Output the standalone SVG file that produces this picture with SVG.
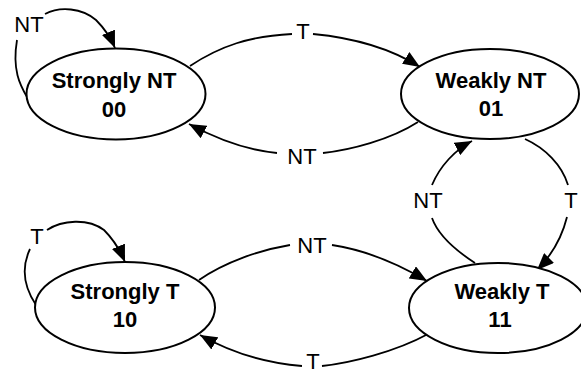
<svg xmlns="http://www.w3.org/2000/svg" width="581" height="375" viewBox="0 0 581 375">
  <style>
    .state ellipse { fill: #ffffff; stroke: #000000; stroke-width: 2; }
    .state text { font-family: "Liberation Sans", Arial, sans-serif; font-weight: bold; font-size: 22px; fill: #000000; text-anchor: middle; }
    .edges path { fill: none; stroke: #000000; stroke-width: 1.8; }
    .edges .arrow { marker-end: url(#head); }
    .lbl { font-family: "Liberation Sans", Arial, sans-serif; font-size: 22px; fill: #000000; text-anchor: middle; }
  </style>
  <defs>
    <marker id="head" markerUnits="userSpaceOnUse" markerWidth="18" markerHeight="14" refX="17" refY="7" orient="auto">
      <path d="M0,0 L17,7 L0,14 Z" fill="#000000"/>
    </marker>
  </defs>

  <rect width="581" height="375" fill="#ffffff"/>

  <!-- transitions -->
  <g id="connectors" class="edges">
    <!-- Strongly NT self-loop (NT) -->
    <path d="M27,97 C20,85 12,70 17,40"/>
    <path class="arrow" d="M45,14 C60,6 82,8 96,20 C104,28 110,36 115,48"/>
    <!-- Strongly NT -> Weakly NT (T) -->
    <path d="M190,66 C220,46 250,36 292,34"/>
    <path class="arrow" d="M313,34 C355,38 390,48 420,67"/>
    <!-- Weakly NT -> Strongly NT (NT) -->
    <path d="M418,122 C390,140 350,150 323,153"/>
    <path class="arrow" d="M277,153 C245,150 215,138 189,124"/>
    <!-- Weakly T -> Weakly NT (NT) -->
    <path d="M475,263 C455,250 438,235 432,218"/>
    <path class="arrow" d="M432,185 C440,166 455,150 472,141"/>
    <!-- Weakly NT -> Weakly T (T) -->
    <path d="M525,139 C545,148 562,165 568,185"/>
    <path class="arrow" d="M567,217 C562,237 552,255 537,270"/>
    <!-- Strongly T -> Weakly T (NT) -->
    <path d="M199,280 C225,262 260,250 290,245"/>
    <path class="arrow" d="M332,245 C365,250 400,265 427,281"/>
    <!-- Weakly T -> Strongly T (T) -->
    <path d="M428,334 C395,352 350,363 322,366"/>
    <path class="arrow" d="M302,366 C265,363 230,352 200,335"/>
    <!-- Strongly T self-loop (T) -->
    <path d="M36,305 C26,290 20,270 30,249"/>
    <path class="arrow" d="M47,230 C62,220 88,218 104,230 C114,240 120,250 125,262"/>
  </g>

  <!-- transition labels -->
  <g id="labels">
    <text class="lbl" x="29" y="32">NT</text>
    <text class="lbl" x="303" y="39">T</text>
    <text class="lbl" x="302" y="164">NT</text>
    <text class="lbl" x="428" y="208">NT</text>
    <text class="lbl" x="571" y="208">T</text>
    <text class="lbl" x="37" y="244">T</text>
    <text class="lbl" x="312" y="253">NT</text>
    <text class="lbl" x="313" y="369">T</text>
  </g>

  <!-- states -->
  <g id="strongly-nt" class="state">
    <ellipse cx="116" cy="94" rx="89.5" ry="45.5"/>
    <text x="114" y="88">Strongly NT</text>
    <text x="114" y="117">00</text>
  </g>
  <g id="weakly-nt" class="state">
    <ellipse cx="490" cy="94" rx="89" ry="45"/>
    <text x="491" y="88">Weakly NT</text>
    <text x="491" y="116">01</text>
  </g>
  <g id="strongly-t" class="state">
    <ellipse cx="125" cy="307.5" rx="90" ry="45.5"/>
    <text x="125" y="299">Strongly T</text>
    <text x="125" y="327">10</text>
  </g>
  <g id="weakly-t" class="state">
    <ellipse cx="498" cy="308" rx="89" ry="45"/>
    <text x="502" y="299">Weakly T</text>
    <text x="500" y="327">11</text>
  </g>
</svg>
